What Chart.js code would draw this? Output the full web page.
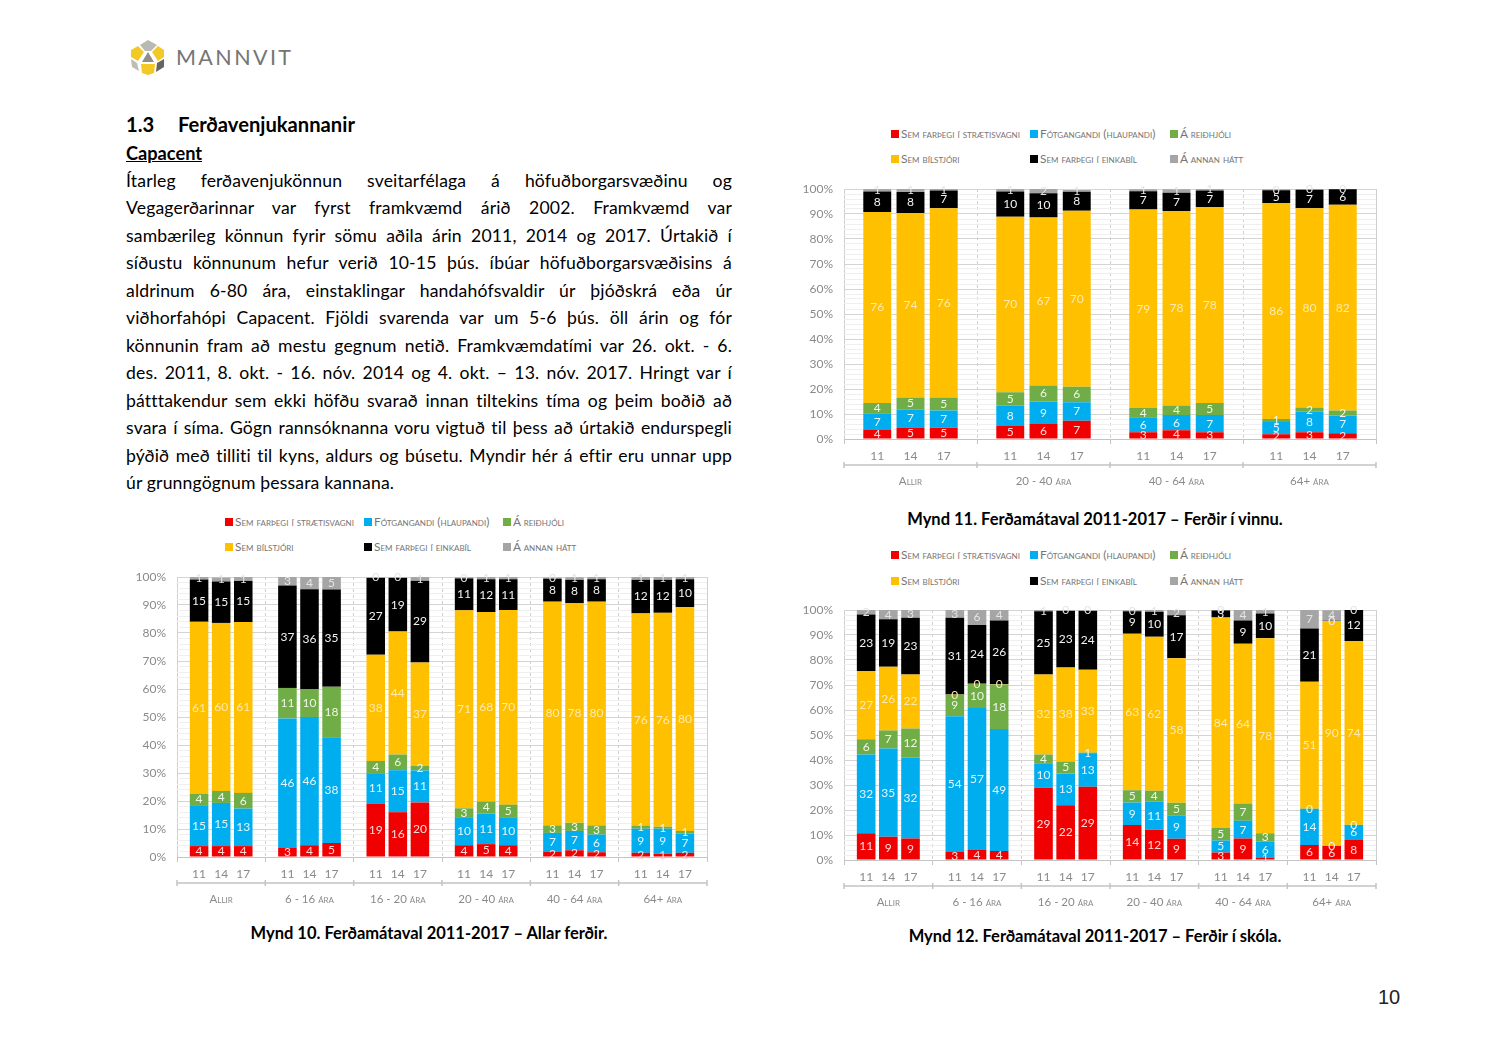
<!DOCTYPE html>
<html lang="is">
<head>
<meta charset="utf-8">
<title>Ferðavenjukannanir</title>
<script src="https://cdn.jsdelivr.net/npm/chart.js@4/dist/chart.umd.min.js"></script>
<style>
html, body { margin: 0; padding: 0; background: #fff; }
body { position: relative; width: 1500px; height: 1061px; overflow: hidden; font-family: Lato, sans-serif; color: #000; }
canvas { position: absolute; }
.abs { position: absolute; white-space: nowrap; }
h2 { position: absolute; margin: 0; left: 126px; top: 113px; font-size: 20.2px; line-height: 23px; font-weight: 700; white-space: nowrap; }
h2 span { position: absolute; left: 52px; }
#capacent { left: 126px; top: 143px; font-size: 18.2px; line-height: 20px; font-weight: 700; text-decoration: underline; }
#body { position: absolute; left: 126px; top: 166.5px; width: 606px; font-size: 17.6px; line-height: 27.5px; letter-spacing: 0.15px; }
#body div { text-align: justify; text-align-last: justify; white-space: nowrap; }
#body div:last-child { text-align-last: left; }
.caption { position: absolute; transform: translateX(-50%); font-size: 16.5px; line-height: 18px; font-weight: 700; white-space: nowrap; }
.legend-item { position: absolute; height: 14px; line-height: 14px; font-size: 11.9px; font-variant: small-caps; color: #757575; white-space: nowrap; }
.legend-item i { display: inline-block; width: 8px; height: 8px; margin-right: 2px; vertical-align: 0; }
#pageno { left: 1378px; top: 985px; font-family: "Liberation Sans", sans-serif; font-size: 20px; line-height: 24px; color: #222; }
#brand { left: 176px; top: 44px; font-size: 21.5px; line-height: 26px; letter-spacing: 2.4px; color: #757575; font-weight: 400; }
</style>
</head>
<body>
<svg class="abs" style="left:128px;top:37px" width="40" height="40" viewBox="0 0 40 40">
  <polygon points="12,8 20,3 29,8 23,14 17,14" fill="#b9b9b3"/>
  <polygon points="10,9 16,15 10,24 3,20 3,13" fill="#f3c927"/>
  <polygon points="30,9 36,13 36,20 30,24 24,15" fill="#f3c927"/>
  <polygon points="20,15 26,25 14,25" fill="#8f8f88"/>
  <polygon points="3,22 9,26 11,34 4,30" fill="#bdbdb7"/>
  <polygon points="13,27 27,27 26,36 20,38 14,36" fill="#f3c927"/>
  <polygon points="36,22 36,30 28,35 29,26" fill="#66665f"/>
</svg>
<div class="abs" id="brand">MANNVIT</div>

<h2>1.3<span>Ferðavenjukannanir</span></h2>
<div class="abs" id="capacent">Capacent</div>
<div id="body">
  <div>Ítarleg ferðavenjukönnun sveitarfélaga á höfuðborgarsvæðinu og</div>
  <div>Vegagerðarinnar var fyrst framkvæmd árið 2002. Framkvæmd var</div>
  <div>sambærileg könnun fyrir sömu aðila árin 2011, 2014 og 2017. Úrtakið í</div>
  <div>síðustu könnunum hefur verið 10-15 þús. íbúar höfuðborgarsvæðisins á</div>
  <div>aldrinum 6-80 ára, einstaklingar handahófsvaldir úr þjóðskrá eða úr</div>
  <div>viðhorfahópi Capacent. Fjöldi svarenda var um 5-6 þús. öll árin og fór</div>
  <div>könnunin fram að mestu gegnum netið. Framkvæmdatími var 26. okt. - 6.</div>
  <div>des. 2011, 8. okt. - 16. nóv. 2014 og 4. okt. – 13. nóv. 2017. Hringt var í</div>
  <div>þátttakendur sem ekki höfðu svarað innan tiltekins tíma og þeim boðið að</div>
  <div>svara í síma. Gögn rannsóknanna voru vigtuð til þess að úrtakið endurspegli</div>
  <div>þýðið með tilliti til kyns, aldurs og búsetu. Myndir hér á eftir eru unnar upp</div>
  <div>úr grunngögnum þessara kannana.</div>
</div>

<canvas id="mynd10"></canvas>
<canvas id="mynd11"></canvas>
<canvas id="mynd12"></canvas>

<div class="caption" style="left:429px;top:924px">Mynd 10. Ferðamátaval 2011-2017 – Allar ferðir.</div>
<div class="caption" style="left:1095px;top:510px">Mynd 11. Ferðamátaval 2011-2017 – Ferðir í vinnu.</div>
<div class="caption" style="left:1095px;top:927px">Mynd 12. Ferðamátaval 2011-2017 – Ferðir í skóla.</div>
<div class="abs" id="pageno">10</div>

<script>
const seriesNames = ['Sem farþegi í strætisvagni', 'Fótgangandi (hlaupandi)', 'Á reiðhjóli', 'Sem bílstjóri', 'Sem farþegi í einkabíl', 'Á annan hátt'];
const seriesColors = ['#F00000', '#00AEEF', '#70AD47', '#FFC000', '#000000', '#A5A5A5'];
const labelColors = ['#ffd9d9', '#e4f6fd', '#eef6e8', '#ffeab0', '#f2f2f2', '#e4e4e4'];
const years = ['11', '14', '17'];

const groups10 = ['Allir', '6 - 16 ára', '16 - 20 ára', '20 - 40 ára', '40 - 64 ára', '64+ ára'];
const red10 = [3.9, 3.9, 3.9, 3.4, 4.2, 5.0, 19.0, 16.0, 19.5, 4.2, 4.6, 4.2, 1.8, 2.4, 1.7, 1.5, 1.2, 1.5];
const blue10 = [14.6, 15.4, 13.4, 46.1, 45.8, 37.8, 10.9, 15.0, 11.4, 10.0, 10.9, 10.0, 6.8, 6.9, 6.3, 8.6, 8.9, 6.9];
const green10 = [4.1, 4.3, 5.6, 10.9, 10.0, 18.0, 4.4, 5.6, 1.7, 3.2, 4.3, 4.5, 2.7, 2.9, 3.3, 1.0, 0.7, 0.9];
const yellow10 = [61.4, 60.0, 61.0, null, null, null, 37.9, 43.9, 36.9, 70.7, 67.7, 69.5, 79.9, 78.4, 79.9, 75.9, 76.4, 79.9];
const black10 = [15.1, 14.8, 14.7, 36.6, 35.6, 34.7, 27.4, 19.1, 29.2, 11.4, 11.7, 11.0, 8.2, 8.4, 8.0, 12.0, 11.8, 10.0];
const gray10 = [1.0, 1.4, 1.4, 3.0, 4.4, 4.5, 0.4, 0.4, 1.3, 0.4, 0.8, 0.8, 0.4, 0.9, 0.8, 1.0, 1.0, 0.8];

const groups11 = ['Allir', '20 - 40 ára', '40 - 64 ára', '64+ ára'];
const red11 = [3.6, 4.6, 4.5, 5.2, 6.0, 7.3, 2.7, 3.5, 2.7, 1.9, 2.7, 2.3];
const blue11 = [6.7, 7.2, 6.9, 8.1, 9.0, 7.4, 6.0, 6.1, 6.9, 4.9, 8.2, 7.1];
const green11 = [4.1, 4.8, 5.2, 5.4, 6.4, 6.2, 3.7, 3.8, 4.8, 1.2, 1.7, 2.0];
const yellow11 = [76.4, 73.8, 75.7, 70.2, 67.2, 70.4, 79.4, 77.8, 78.4, 86.4, 79.7, 82.3];
const black11 = [8.2, 8.4, 7.1, 10.1, 9.7, 7.6, 7.3, 7.3, 6.6, 5.1, 7.4, 6.2];
const gray11 = [1.0, 1.4, 0.7, 1.0, 1.7, 0.7, 0.8, 1.4, 0.9, 0.4, 0.2, 0.1];

const groups12 = ['Allir', '6 - 16 ára', '16 - 20 ára', '20 - 40 ára', '40 - 64 ára', '64+ ára'];
const red12 = [10.7, 9.3, 8.6, 3.2, 4.0, 3.6, 28.9, 21.9, 29.3, 14.0, 12.1, 8.5, 3.0, 8.6, 1.0, 6.0, 5.6, 8.0];
const blue12 = [31.5, 35.3, 32.4, 54.3, 56.8, 48.8, 9.8, 12.7, 13.1, 9.0, 11.2, 9.2, 4.8, 7.1, 6.3, 14.4, 0.1, 6.0];
const green12 = [6.1, 7.2, 11.6, 8.6, 9.6, 17.8, 3.5, 4.8, 0.6, 4.9, 4.4, 5.2, 5.0, 6.9, 3.4, 0.2, null, 0.1];
const yellow12 = [27.3, 25.5, 21.6, 0.1, 0.1, 0.1, 32.0, 37.6, 33.1, 62.6, 61.6, 57.8, 84.2, 63.9, 78.0, 50.7, 89.9, 73.5];
const black12 = [22.6, 19.0, 22.7, 30.7, 23.5, 25.5, 25.3, 22.6, 23.5, 9.0, 10.0, 17.2, 2.8, 9.3, 9.9, 21.3, 0.1, 12.4];
const gray12 = [2.0, 3.7, 3.1, 3.3, 6.0, 4.4, 0.5, 0.4, 0.4, 0.4, 0.7, 2.1, 0.2, 4.2, 1.4, 7.4, 4.2, 0.1];

const FONT = 'Lato, sans-serif';
const TEXT_GREY = '#8a8a8a';

// every group is blank, 11, 14, 17 so the group edges land on an empty category
function withGaps(values, blank) {
    const out = [];
    for (let i = 0; i < values.length; i += 3) {
        out.push(blank, values[i], values[i + 1], values[i + 2]);
    }
    out.push(blank);
    return out;
}

function yearLabels(groups) {
    let vals = [];
    groups.forEach(() => { vals = vals.concat(years); });
    return withGaps(vals, '');
}

const barLabels = {
    id: 'barLabels',
    afterDatasetsDraw(chart) {
        const ctx = chart.ctx;
        ctx.save();
        ctx.font = '12px ' + FONT;
        ctx.textAlign = 'center';
        ctx.textBaseline = 'middle';
        chart.data.datasets.forEach((ds, d) => {
            chart.getDatasetMeta(d).data.forEach((el, i) => {
                if (ds.data[i] === null) return;
                const p = el.getProps(['x', 'y', 'base'], true);
                ctx.fillStyle = labelColors[d];
                ctx.fillText(String(Math.round(ds.data[i])), p.x, (p.y + p.base) / 2);
            });
        });
        ctx.restore();
    }
};

// second level of the category axis: bracket line and group names
const groupAxis = {
    id: 'groupAxis',
    afterDraw(chart, args, opts) {
        const x = chart.scales.x;
        const ctx = chart.ctx;
        const lineY = x.top + 26;
        ctx.save();
        ctx.strokeStyle = '#c4c4c4';
        ctx.lineWidth = 1.5;
        ctx.beginPath();
        ctx.moveTo(x.left, lineY);
        ctx.lineTo(x.right, lineY);
        opts.names.forEach((name, g) => {
            const px = x.getPixelForTick(g * 4);
            ctx.moveTo(px, lineY - 3);
            ctx.lineTo(px, lineY + 3);
        });
        ctx.moveTo(x.right, lineY - 3);
        ctx.lineTo(x.right, lineY + 3);
        ctx.stroke();
        ctx.font = 'small-caps 11.5px ' + FONT;
        ctx.fillStyle = TEXT_GREY;
        ctx.textAlign = 'center';
        ctx.textBaseline = 'middle';
        opts.names.forEach((name, g) => {
            ctx.fillText(name, x.getPixelForTick(g * 4 + 2), lineY + 16);
        });
        ctx.restore();
    }
};

function drawChart(id, groups, series, plot) {
    const canvas = document.getElementById(id);
    const axisW = 44, topPad = 8, rightPad = 6, axisH = 60;
    canvas.width = plot.right - plot.left + axisW + rightPad;
    canvas.height = plot.bottom - plot.top + topPad + axisH;
    canvas.style.left = (plot.left - axisW) + 'px';
    canvas.style.top = (plot.top - topPad) + 'px';
    canvas.style.width = canvas.width + 'px';
    canvas.style.height = canvas.height + 'px';
    new Chart(canvas, {
        type: 'bar',
        data: {
            labels: yearLabels(groups),
            datasets: series.map((vals, s) => ({
                label: seriesNames[s],
                data: withGaps(vals, null),
                backgroundColor: seriesColors[s],
                barPercentage: 0.84,
                categoryPercentage: 1
            }))
        },
        options: {
            responsive: false,
            animation: false,
            devicePixelRatio: 1,
            layout: { padding: { top: topPad, right: rightPad, left: 0, bottom: 0 } },
            plugins: {
                legend: { display: false },
                tooltip: { enabled: false },
                groupAxis: { names: groups }
            },
            scales: {
                x: {
                    stacked: true,
                    offset: false,
                    afterFit(axis) { axis.height = axisH; },
                    grid: {
                        offset: false,
                        tickLength: 5,
                        color: ctx => ctx.index % 4 === 0 ? '#cfcfcf' : 'transparent',
                        tickColor: ctx => ctx.index % 4 === 0 ? '#c4c4c4' : 'transparent'
                    },
                    border: {
                        color: '#c4c4c4',
                        dash: ctx => (ctx.index === 0 || ctx.index === groups.length * 4) ? [] : [3, 3]
                    },
                    ticks: {
                        autoSkip: false,
                        maxRotation: 0,
                        padding: 5,
                        color: TEXT_GREY,
                        font: { family: FONT, size: 12 }
                    }
                },
                y: {
                    stacked: true,
                    min: 0,
                    max: 100,
                    afterFit(axis) { axis.width = axisW; axis.paddingTop = 0; axis.paddingBottom = 0; },
                    grid: {
                        drawTicks: false,
                        color: ctx => ctx.tick.value % 10 === 0 ? '#d4d4d4' : '#efefef'
                    },
                    border: { display: false },
                    ticks: {
                        stepSize: 2,
                        autoSkip: false,
                        padding: 11,
                        color: TEXT_GREY,
                        font: { family: FONT, size: 12 },
                        callback: v => v % 10 === 0 ? v + '%' : ''
                    }
                }
            }
        },
        plugins: [barLabels, groupAxis]
    });
}

function drawLegend(xs, ys) {
    seriesNames.forEach((name, s) => {
        const item = document.createElement('div');
        item.className = 'legend-item';
        item.style.left = xs[s % 3] + 'px';
        item.style.top = (ys[Math.floor(s / 3)] - 7) + 'px';
        const box = document.createElement('i');
        box.style.background = seriesColors[s];
        item.appendChild(box);
        item.appendChild(document.createTextNode(name));
        document.body.appendChild(item);
    });
}

drawChart('mynd10', groups10, [red10, blue10, green10, yellow10, black10, gray10], { left: 177, right: 707, top: 577, bottom: 857 });
drawChart('mynd11', groups11, [red11, blue11, green11, yellow11, black11, gray11], { left: 844, right: 1376, top: 189, bottom: 439 });
drawChart('mynd12', groups12, [red12, blue12, green12, yellow12, black12, gray12], { left: 844, right: 1376, top: 610, bottom: 860 });

drawLegend([225, 364, 503], [522, 547]);
drawLegend([891, 1030, 1170], [134, 159]);
drawLegend([891, 1030, 1170], [555, 581]);
</script>
</body>
</html>
